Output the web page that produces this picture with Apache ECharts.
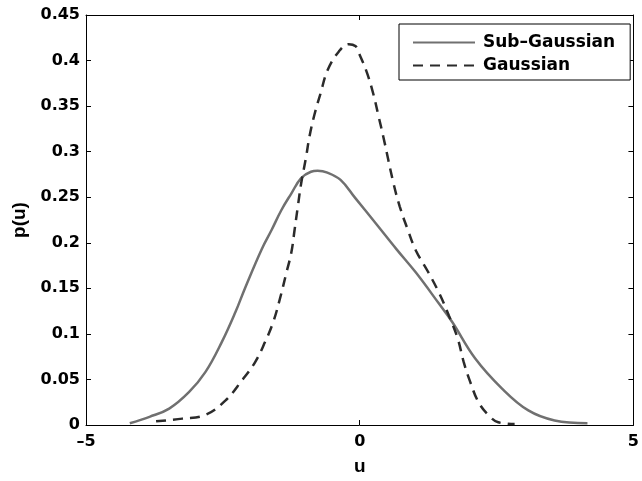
<!DOCTYPE html>
<html>
<head>
<meta charset="utf-8">
<script src="https://cdn.jsdelivr.net/npm/echarts@6/dist/echarts.min.js"></script>
<style>
  html, body { margin: 0; padding: 0; background: #fff; }
  #chart { width: 642px; height: 481px; }
</style>
</head>
<body>
<div id="chart"></div>
<script>
// Sub-Gaussian density
const subU = [-4.2, -3.84, -3.48, -3.12, -2.82, -2.52, -2.27, -2.09, -1.79, -1.61, -1.43, -1.25, -1.07, -0.89, -0.77, -0.59, -0.35, -0.08, 0.31, 0.67, 1.03, 1.45, 1.69, 2.11, 2.6, 3.08, 3.56, 4.16]
const subP = [0.002, 0.009, 0.018, 0.036, 0.058, 0.091, 0.124, 0.151, 0.193, 0.214, 0.236, 0.254, 0.271, 0.278, 0.279, 0.277, 0.269, 0.249, 0.22, 0.193, 0.167, 0.133, 0.113, 0.073, 0.04, 0.016, 0.005, 0.002]

// Gaussian density
const gauU = [-3.72, -3.24, -2.82, -2.45, -2.15, -1.91, -1.73, -1.58, -1.46, -1.34, -1.25, -1.19, -1.13, -1.07, -0.98, -0.92, -0.83, -0.71, -0.59, -0.38, -0.2, -0.08, -0.02, 0.13, 0.25, 0.34, 0.44, 0.61, 0.73, 0.88, 1.03, 1.24, 1.45, 1.63, 1.79, 1.9, 2.02, 2.17, 2.35, 2.53, 2.83]
const gauP = [0.004, 0.007, 0.011, 0.027, 0.049, 0.069, 0.091, 0.113, 0.138, 0.167, 0.189, 0.214, 0.24, 0.265, 0.294, 0.316, 0.34, 0.365, 0.389, 0.41, 0.418, 0.416, 0.409, 0.387, 0.363, 0.34, 0.314, 0.267, 0.24, 0.214, 0.191, 0.169, 0.145, 0.12, 0.095, 0.069, 0.047, 0.025, 0.011, 0.003, 0.001]

const seriesNames = ['Sub\u2013Gaussian', 'Gaussian']

const tickFont = { color: '#000', fontFamily: '"DejaVu Sans", sans-serif', fontWeight: 'bold', fontSize: 16 }
const nameFont = { color: '#000', fontFamily: '"Liberation Sans", Arial, sans-serif', fontWeight: 'bold', fontSize: 19 }

const zip = (xs, ys) => xs.map((x, i) => [x, ys[i]])

const chart = echarts.init(document.getElementById('chart'))
chart.setOption({
  animation: false,
  grid: { left: 86, right: 2, top: 15, bottom: 51, containLabel: false },
  legend: {
    orient: 'vertical',
    left: 399,
    top: 24,
    padding: [10, 15, 6, 13],
    itemGap: 6,
    itemWidth: 62,
    itemHeight: 18,
    borderColor: '#000',
    borderWidth: 1,
    borderRadius: 0,
    backgroundColor: '#fff',
    itemStyle: { opacity: 0 },
    textStyle: Object.assign({}, tickFont, { fontSize: 17, padding: [0, 0, 0, 3] }),
    data: seriesNames
  },
  xAxis: [{
    type: 'value', min: -5, max: 5, interval: 5,
    name: 'u', nameLocation: 'middle', nameGap: 32,
    nameTextStyle: Object.assign({}, nameFont),
    axisLine: { onZero: false, lineStyle: { color: '#000', width: 1 } },
    axisTick: { inside: true, length: 5, lineStyle: { color: '#000' } },
    axisLabel: Object.assign({ margin: 9, formatter: v => String(v).replace('-', '\u2013') }, tickFont),
    splitLine: { show: false }
  }, {
    type: 'value', min: -5, max: 5, interval: 5, position: 'top',
    axisLine: { onZero: false, lineStyle: { color: '#000', width: 1 } },
    axisTick: { inside: true, length: 5, lineStyle: { color: '#000' } },
    axisLabel: { show: false },
    splitLine: { show: false }
  }],
  yAxis: [{
    type: 'value', min: 0, max: 0.45, interval: 0.05,
    name: 'p(u)', nameLocation: 'middle', nameGap: 56, nameRotate: 90,
    nameTextStyle: Object.assign({}, nameFont),
    axisLine: { show: true, onZero: false, lineStyle: { color: '#000', width: 1 } },
    axisTick: { show: true, inside: true, length: 5, lineStyle: { color: '#000' } },
    axisLabel: Object.assign({ margin: 6, formatter: v => String(+v.toFixed(2)) }, tickFont),
    splitLine: { show: false }
  }, {
    type: 'value', min: 0, max: 0.45, interval: 0.05, position: 'right',
    axisLine: { show: true, onZero: false, lineStyle: { color: '#000', width: 1 } },
    axisTick: { show: true, inside: true, length: 5, lineStyle: { color: '#000' } },
    axisLabel: { show: false },
    splitLine: { show: false }
  }],
  series: [{
    name: seriesNames[0],
    type: 'line',
    symbol: 'none',
    smooth: 0.4,
    data: zip(subU, subP),
    lineStyle: { color: '#707070', width: 2.5 },
    itemStyle: { color: '#707070' }
  }, {
    name: seriesNames[1],
    type: 'line',
    symbol: 'none',
    smooth: 0.4,
    data: zip(gauU, gauP),
    lineStyle: { color: '#2b2b2b', width: 2.5, type: [10, 7] },
    itemStyle: { color: '#2b2b2b' }
  }]
})
</script>
</body>
</html>
